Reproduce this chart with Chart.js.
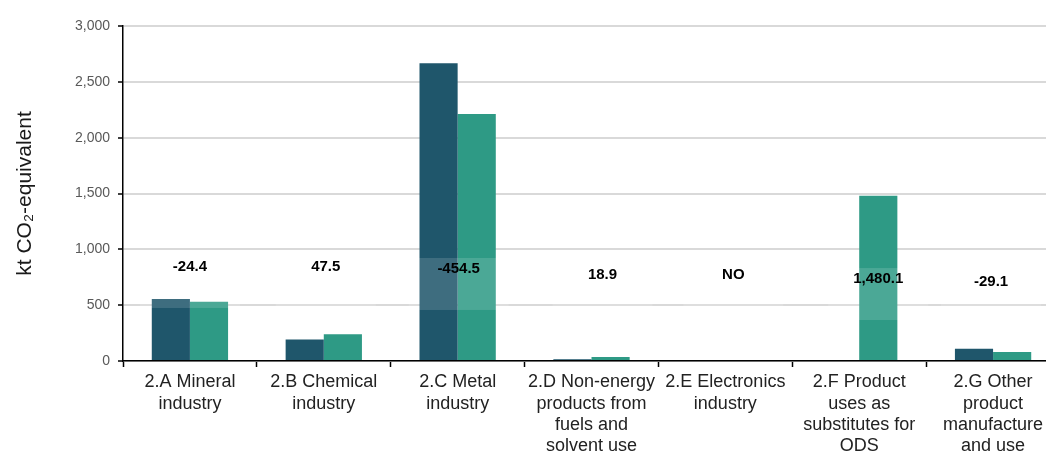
<!DOCTYPE html>
<html>
<head>
<meta charset="utf-8">
<script src="https://cdn.jsdelivr.net/npm/chart.js@4.4.1/dist/chart.umd.min.js"></script>
<style>
  html, body { margin: 0; padding: 0; background: #fff; overflow: hidden; }
  #wrap { width: 1060px; height: 453px; position: relative; }
</style>
</head>
<body>
<div id="wrap"><canvas id="myChart"></canvas></div>
<script>
// Catégories (libellés sur plusieurs lignes)
const categories = [
  ['2.A Mineral', 'industry'],
  ['2.B Chemical', 'industry'],
  ['2.C Metal', 'industry'],
  ['2.D Non-energy', 'products from', 'fuels and', 'solvent use'],
  ['2.E Electronics', 'industry'],
  ['2.F Product', 'uses as', 'substitutes for', 'ODS'],
  ['2.G Other', 'product', 'manufacture', 'and use']
];
// Séries (kt CO2-eq)
const seriesFirst = [555.5, 193.0, 2666.6, 16.2, null, 0, 110.6];
const seriesLast = [531.1, 240.5, 2212.1, 35.1, null, 1480.1, 81.5];
// Étiquettes de variation
const changeLabels = ['-24.4', '47.5', '-454.5', '18.9', 'NO', '1,480.1', '-29.1'];
// Graduations de l'axe Y
const yTicks = [0, 500, 1000, 1500, 2000, 2500, 3000];

// position des étiquettes (niveau en unités de l'axe + décalage horizontal en px)
const labelLevels = [842, 842, 824, 770, 770, 734, 707];
const labelShift = [0, 2, 1, 11, 8, 19, -2];

const changeLabelPlugin = {
  id: 'changeLabels',
  afterDatasetsDraw(chart) {
    const { ctx, scales: { x, y } } = chart;
    ctx.save();
    changeLabels.forEach((txt, i) => {
      const cx = x.getPixelForValue(i) + labelShift[i];
      const cy = y.getPixelForValue(labelLevels[i]);
      // boîte blanche semi-transparente
      ctx.fillStyle = 'rgba(255,255,255,0.14)';
      ctx.fillRect(cx - 50, cy - 11, 100, 52);
      ctx.fillStyle = '#000';
      ctx.font = 'bold 15px "Liberation Sans", Arial, sans-serif';
      ctx.textAlign = 'center';
      ctx.textBaseline = 'middle';
      ctx.fillText(txt, cx, cy);
    });
    ctx.restore();
  }
};

const ctx = document.getElementById('myChart').getContext('2d');
const myChart = new Chart(ctx, {
  type: 'bar',
  data: {
    labels: categories,
    datasets: [
      {
        label: 'Base',
        data: seriesFirst,
        backgroundColor: '#1F566B',
        barPercentage: 1,
        categoryPercentage: 0.57
      },
      {
        label: 'Latest',
        data: seriesLast,
        backgroundColor: '#2E9A85',
        barPercentage: 1,
        categoryPercentage: 0.57
      }
    ]
  },
  options: {
    responsive: true,
    maintainAspectRatio: false,
    animation: false,
    layout: { padding: { top: 26, right: 0, bottom: 0, left: 0 } },
    plugins: {
      legend: { display: false },
      tooltip: { enabled: false }
    },
    scales: {
      x: {
        offset: true,
        grid: {
          offset: true,
          drawOnChartArea: false,
          drawTicks: true,
          tickLength: 6,
          tickColor: '#000',
          tickWidth: 1.5
        },
        border: { color: '#000', width: 1.5 },
        ticks: {
          color: '#222',
          padding: 5,
          maxRotation: 0,
          autoSkip: false,
          font: { family: '"Liberation Sans", Arial, sans-serif', size: 18, lineHeight: 1.17 }
        },
        afterFit: s => { s.height = 92; }
      },
      y: {
        min: 0,
        max: 3000,
        afterBuildTicks: s => { s.ticks = yTicks.map(v => ({ value: v })); },
        grid: {
          color: '#D9D9D9',
          lineWidth: 2,
          tickLength: 5,
          tickColor: '#000',
          tickWidth: 1.5
        },
        border: { color: '#000', width: 1.5 },
        ticks: {
          color: '#595959',
          padding: 8,
          font: { family: '"Liberation Sans", Arial, sans-serif', size: 14 },
          callback: v => v.toLocaleString('en-US')
        },
        title: {
          display: true,
          text: 'kt CO\u2082-equivalent',
          color: '#1a1a1a',
          padding: { top: 13, bottom: 0 },
          font: { family: '"Liberation Sans", Arial, sans-serif', size: 21 }
        },
        afterFit: s => { s.width = 123; }
      }
    }
  },
  plugins: [changeLabelPlugin]
});
</script>
</body>
</html>
